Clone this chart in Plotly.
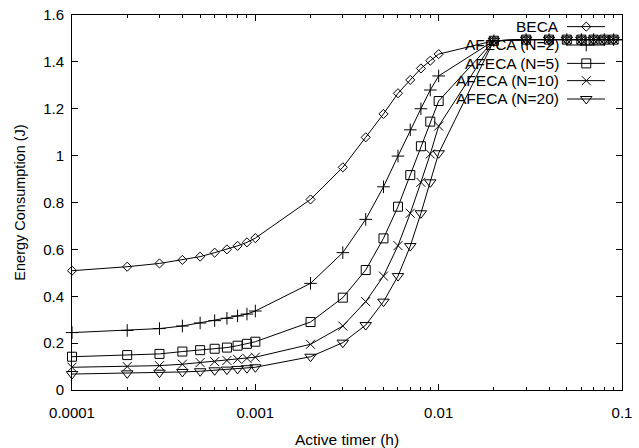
import plotly.graph_objects as go

# ---- data ----
active_timer = [0.0001, 0.0002, 0.0003, 0.0004, 0.0005, 0.0006, 0.0007, 0.0008, 0.0009, 0.001,
                0.002, 0.003, 0.004, 0.005, 0.006, 0.007, 0.008, 0.009, 0.01,
                0.02, 0.03, 0.04, 0.05, 0.06, 0.07, 0.08, 0.09, 0.1]

beca = [0.509, 0.526, 0.540, 0.555, 0.569, 0.586, 0.600, 0.615, 0.630, 0.648,
        0.813, 0.950, 1.078, 1.178, 1.266, 1.323, 1.372, 1.405, 1.433,
        1.490, 1.495, 1.495, 1.495, 1.495, 1.495, 1.495, 1.495, 1.495]
afeca_n2 = [0.245, 0.254, 0.262, 0.273, 0.286, 0.296, 0.306, 0.316, 0.324, 0.337,
            0.455, 0.586, 0.728, 0.867, 0.998, 1.110, 1.200, 1.280, 1.340,
            1.490, 1.495, 1.495, 1.495, 1.495, 1.495, 1.495, 1.495, 1.495]
afeca_n5 = [0.142, 0.149, 0.154, 0.164, 0.170, 0.176, 0.181, 0.189, 0.197, 0.206,
            0.290, 0.394, 0.512, 0.647, 0.782, 0.917, 1.040, 1.145, 1.233,
            1.490, 1.495, 1.495, 1.495, 1.495, 1.495, 1.495, 1.495, 1.495]
afeca_n10 = [0.097, 0.100, 0.104, 0.110, 0.117, 0.121, 0.126, 0.131, 0.135, 0.140,
             0.195, 0.273, 0.377, 0.486, 0.616, 0.754, 0.886, 1.007, 1.126,
             1.490, 1.495, 1.495, 1.495, 1.495, 1.495, 1.495, 1.495, 1.495]
afeca_n20 = [0.068, 0.071, 0.074, 0.077, 0.080, 0.084, 0.087, 0.090, 0.093, 0.097,
             0.142, 0.202, 0.277, 0.377, 0.486, 0.614, 0.754, 0.886, 1.010,
             1.490, 1.495, 1.495, 1.495, 1.495, 1.495, 1.495, 1.495, 1.495]

series_names = ["BECA", "AFECA (N=2)", "AFECA (N=5)", "AFECA (N=10)", "AFECA (N=20)"]
series_values = [beca, afeca_n2, afeca_n5, afeca_n10, afeca_n20]
series_symbols = ["diamond-open", "cross-thin-open", "square-open", "x-thin-open", "triangle-down-open"]
series_sizes = [7, 9, 9, 9, 10]

x_tick_vals = [0.0001, 0.001, 0.01, 0.1]
x_tick_text = ["0.0001", "0.001", "0.01", "0.1"]
y_tick_vals = [0, 0.2, 0.4, 0.6, 0.8, 1.0, 1.2, 1.4, 1.6]
y_tick_text = ["0", "0.2", "0.4", "0.6", "0.8", "1", "1.2", "1.4", "1.6"]

FONT = "Liberation Sans, Arial, Helvetica, sans-serif"
FS = 15

fig = go.Figure()
for name, vals, sym, sz in zip(series_names, series_values, series_symbols, series_sizes):
    fig.add_trace(go.Scatter(
        x=active_timer, y=vals, name=name, mode="lines+markers",
        line=dict(color="black", width=1),
        marker=dict(symbol=sym, size=sz, color="black", line=dict(color="black", width=1)),
        cliponaxis=False, showlegend=False,
    ))

# ---- custom gnuplot-style key (text on left, sample on right) ----
key_rows_y = [0.969, 0.920, 0.871, 0.825, 0.776]
key_text_x = 0.889
key_line_x = [0.900, 0.969]
key_mark_x = 0.935
for name, sym, sz, ky in zip(series_names, series_symbols, series_sizes, key_rows_y):
    fig.add_trace(go.Scatter(
        x=key_line_x, y=[ky, ky], mode="lines", xaxis="x2", yaxis="y2",
        line=dict(color="black", width=1), showlegend=False, hoverinfo="skip",
    ))
    fig.add_trace(go.Scatter(
        x=[key_mark_x], y=[ky], mode="markers", xaxis="x2", yaxis="y2",
        marker=dict(symbol=sym, size=sz, color="black", line=dict(color="black", width=1)),
        showlegend=False, hoverinfo="skip", cliponaxis=False,
    ))
    fig.add_annotation(
        x=key_text_x, y=ky, xref="paper", yref="paper", text=name, showarrow=False,
        xanchor="right", yanchor="middle", font=dict(family=FONT, size=15.5, color="black"),
    )

minor_x = [m * 10 ** e for e in (-4, -3, -2) for m in range(2, 10)]

fig.update_layout(
    width=639, height=448,
    margin=dict(l=72, r=17, t=15, b=58),
    paper_bgcolor="white", plot_bgcolor="white",
    font=dict(family=FONT, size=FS, color="black"),
    xaxis=dict(
        type="log", range=[-4, -1], automargin=False,
        tickmode="array", tickvals=x_tick_vals, ticktext=x_tick_text,
        ticks="inside", ticklen=6, tickwidth=1, tickcolor="black",
        ticklabelstandoff=9,
        showline=True, linecolor="black", linewidth=1, mirror="ticks",
        showgrid=False, zeroline=False,
        minor=dict(tickmode="array", tickvals=minor_x, ticks="inside", ticklen=3,
                   tickwidth=1, tickcolor="black", showgrid=False),
        title=dict(text="Active timer (h)", font=dict(family=FONT, size=15.5), standoff=16),
        tickfont=dict(family=FONT, size=FS),
    ),
    yaxis=dict(
        range=[0, 1.6], automargin=False,
        tickmode="array", tickvals=y_tick_vals, ticktext=y_tick_text,
        ticks="inside", ticklen=6, tickwidth=1, tickcolor="black",
        ticklabelstandoff=4,
        showline=True, linecolor="black", linewidth=1, mirror="ticks",
        showgrid=False, zeroline=False,
        title=dict(text="Energy Consumption (J)", font=dict(family=FONT, size=14.5), standoff=14),
        tickfont=dict(family=FONT, size=FS),
    ),
    xaxis2=dict(overlaying="x", range=[0, 1], visible=False, fixedrange=True),
    yaxis2=dict(overlaying="y", range=[0, 1], visible=False, fixedrange=True),
)

fig.write_html("out.html")
